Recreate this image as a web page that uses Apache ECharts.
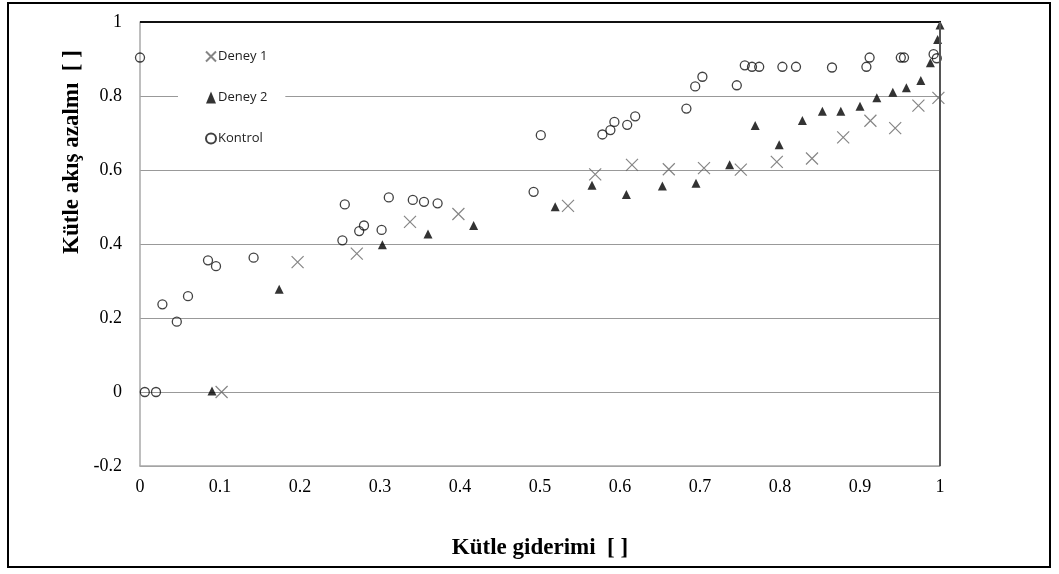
<!DOCTYPE html>
<html>
<head>
<meta charset="utf-8">
<script src="https://cdn.jsdelivr.net/npm/echarts@6/dist/echarts.min.js"></script>
<style>
html,body{margin:0;padding:0;background:#fff;}
#chart{width:1059px;height:574px;}
</style>
</head>
<body>
<div id="chart"></div>
<script>
// Data
var xTicks = ['0','0.1','0.2','0.3','0.4','0.5','0.6','0.7','0.8','0.9','1'];
var yTicks = ['-0.2','0','0.2','0.4','0.6','0.8','1'];

var deney1X = [0.102, 0.197, 0.271, 0.3375, 0.398, 0.535, 0.569, 0.615, 0.661, 0.705, 0.751, 0.796, 0.84, 0.879, 0.913, 0.944, 0.973, 0.998];
var deney1Y = [0.0, 0.351, 0.374, 0.46, 0.481, 0.503, 0.588, 0.614, 0.602, 0.605, 0.601, 0.622, 0.631, 0.688, 0.733, 0.713, 0.774, 0.795];

var deney2X = [0.09, 0.174, 0.303, 0.36, 0.417, 0.519, 0.565, 0.608, 0.653, 0.695, 0.737, 0.769, 0.799, 0.828, 0.853, 0.876, 0.9, 0.921, 0.941, 0.958, 0.976, 0.988, 0.997, 1.0];
var deney2Y = [0.003, 0.278, 0.398, 0.427, 0.45, 0.501, 0.559, 0.534, 0.557, 0.564, 0.614, 0.72, 0.668, 0.734, 0.759, 0.759, 0.772, 0.795, 0.81, 0.822, 0.842, 0.89, 0.953, 0.992];

var kontrolX = [0.0, 0.006, 0.02, 0.028, 0.046, 0.06, 0.085, 0.095, 0.142, 0.253, 0.256, 0.274, 0.28, 0.302, 0.311, 0.341, 0.355, 0.372, 0.492, 0.501, 0.578, 0.588, 0.593, 0.609, 0.619, 0.683, 0.694, 0.703, 0.746, 0.756, 0.765, 0.774, 0.803, 0.82, 0.865, 0.908, 0.912, 0.951, 0.955, 0.992, 0.996];
var kontrolY = [0.904, 0.0, 0.0, 0.237, 0.19, 0.259, 0.356, 0.34, 0.363, 0.41, 0.507, 0.435, 0.45, 0.438, 0.526, 0.519, 0.514, 0.51, 0.541, 0.694, 0.696, 0.708, 0.73, 0.722, 0.745, 0.766, 0.826, 0.852, 0.829, 0.883, 0.879, 0.879, 0.879, 0.879, 0.877, 0.879, 0.904, 0.904, 0.904, 0.913, 0.902];

function pairs(xs, ys){ return xs.map(function(v,i){ return [v, ys[i]]; }); }

var chart = echarts.init(document.getElementById('chart'), null, {renderer:'canvas'});
var serif = '"Liberation Serif", "Times New Roman", serif';
var G = { left: 140, right: 119, top: 22, bottom: 108 };
var W = 1059, H = 574;
var option = {
  backgroundColor: '#fff',
  animation: false,
  grid: { left: G.left, right: G.right, top: G.top, bottom: G.bottom, containLabel: false },
  legend: {
    orient: 'vertical',
    left: 178, top: 47,
    padding: [3, 18, 3, 27],
    itemWidth: 10, itemHeight: 12,
    itemGap: 28,
    backgroundColor: '#fff',
    textStyle: { fontFamily: '"Open Sans", "Liberation Sans", sans-serif', fontSize: 13, color: '#222', padding: [0,0,0,-3] },
    data: ['Deney 1', 'Deney 2', 'Kontrol']
  },
  xAxis: {
    type: 'value', min: 0, max: 1, interval: 0.1,
    name: 'Kütle giderimi  [ ]', nameLocation: 'middle', nameGap: 71,
    nameTextStyle: { fontFamily: serif, fontSize: 23, fontWeight: 'bold', color: '#000' },
    axisLine: { show: true, onZero: false, lineStyle: { color: '#a8a8a8', width: 1.5 } },
    axisTick: { show: false },
    splitLine: { show: false },
    axisLabel: { fontFamily: serif, fontSize: 18, color: '#000', margin: 12,
      formatter: function(v){ return xTicks[Math.round(v*10)]; } }
  },
  yAxis: {
    type: 'value', min: -0.2, max: 1, interval: 0.2,
    axisLine: { show: true, onZero: false, lineStyle: { color: '#a8a8a8', width: 1.5 } },
    axisTick: { show: false },
    splitLine: { show: true, lineStyle: { color: '#999', width: 1.2 } },
    axisLabel: { fontFamily: serif, fontSize: 18, color: '#000', margin: 18,
      formatter: function(v){ return yTicks[Math.round((v+0.2)*5)]; } }
  },
  graphic: [
    { type: 'rect', shape: { x: 8, y: 3, width: 1042, height: 564 }, style: { fill: 'none', stroke: '#000', lineWidth: 2 }, z: 100 },
    { type: 'rect', shape: { x: G.left, y: G.top - 1, width: W - G.left - G.right + 1, height: 2 }, style: { fill: '#111' }, z: 100, silent: true },
    { type: 'rect', shape: { x: W - G.right - 1, y: G.top, width: 2, height: H - G.top - G.bottom }, style: { fill: '#555' }, z: 100, silent: true },
    { type: 'text', x: 72, y: 152, rotation: Math.PI/2,
      style: { text: 'Kütle akış azalmı  [ ]', font: 'bold 23px ' + serif, fill: '#000', textAlign: 'center', textVerticalAlign: 'middle' } }
  ],
  series: [{
    name: 'Deney 1', type: 'scatter',
    symbol: 'path://M0,0L10,10M10,0L0,10', symbolSize: 12,
    itemStyle: { color: 'transparent', borderColor: '#666', borderWidth: 1.2 },
    data: pairs(deney1X, deney1Y), z: 3
  }, {
    name: 'Deney 2', type: 'scatter',
    symbol: 'triangle', symbolSize: 9,
    itemStyle: { color: '#000' },
    data: pairs(deney2X, deney2Y), z: 4
  }, {
    name: 'Kontrol', type: 'scatter',
    symbol: 'circle', symbolSize: 9,
    itemStyle: { color: 'transparent', borderColor: '#111', borderWidth: 1.3 },
    data: pairs(kontrolX, kontrolY), z: 2
  }]
};
chart.setOption(option);
</script>
</body>
</html>
